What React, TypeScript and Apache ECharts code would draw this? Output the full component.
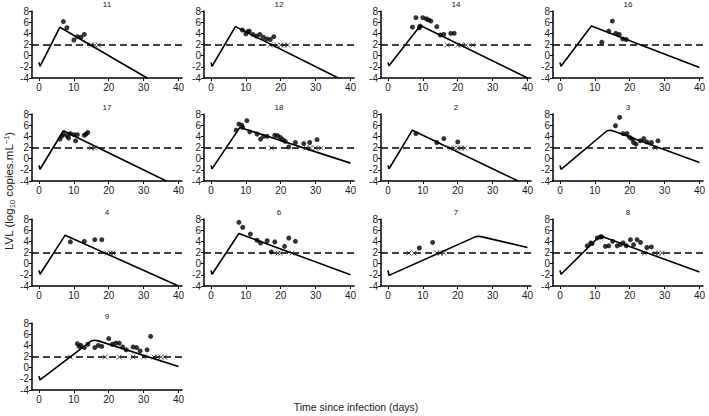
import React, { useEffect, useRef } from "react";
import * as echarts from "echarts";

const panelIds = ["11", "12", "14", "16", "17", "18", "2", "3", "4", "6", "7", "8", "9"];
const LOD = 1.9;
const xTicks = [0, 10, 20, 30, 40];

// model curves [day, log10 VL]
const model11 = [[0, -1.2], [0.3, -1.9], [6, 5.1], [31, -4]];
const model12 = [[0, -1.2], [0.3, -1.9], [7, 5.2], [36.5, -4]];
const model14 = [[0, -1.2], [0.3, -1.8], [9.3, 5.4], [40, -4]];
const model16 = [[0, -1.2], [0.3, -1.9], [9, 5.3], [40, -2.1]];
const model17 = [[0, -1.2], [0.3, -1.9], [7, 5.0], [36.5, -4]];
const model18 = [[0, -1.2], [0.3, -1.8], [8.3, 5.6], [40, -0.8]];
const model2 = [[0, -1.2], [0.3, -1.8], [7, 5.1], [37.3, -4]];
const model3 = [[0, -1.2], [0.3, -1.9], [13.5, 5.0], [14.5, 5.1], [15.5, 4.9], [40, -0.7]];
const model4 = [[0, -1.2], [0.3, -1.9], [7.5, 5.1], [40, -4]];
const model6 = [[0, -1.2], [0.3, -1.9], [8, 5.4], [40, -2]];
const model7 = [[0, -1.2], [0.3, -2.1], [25, 4.8], [26, 4.9], [27, 4.8], [40, 2.9]];
const model8 = [[0, -1.2], [0.3, -1.9], [11.5, 5.0], [40, -1.5]];
const model9 = [[0, -1.5], [0.3, -2.2], [15, 4.8], [16, 4.9], [17, 4.8], [40, 0.2]];

// detected measurements
const detected11 = [[7, 6.1], [8, 5.0], [10, 2.8], [11, 3.4], [12, 3.3], [13, 3.8]];
const detected12 = [[9, 4.6], [10, 3.9], [10.5, 4.3], [11, 4.4], [12, 3.8], [13, 3.5], [14, 3.8], [15, 3.3], [16, 3.0], [17, 2.9], [18, 3.4]];
const detected14 = [[7, 5.1], [8, 6.8], [9, 5.0], [9.2, 5.3], [10, 6.8], [11, 6.6], [11.6, 6.4], [12.3, 6.2], [14, 5.2], [15, 3.7], [16, 3.8], [18, 4.0], [19, 4.0]];
const detected16 = [[12, 2.4], [14, 4.4], [15, 6.2], [16, 4.0], [17, 3.8], [18, 3.0], [19, 2.9]];
const detected17 = [[6, 3.5], [6.5, 4.0], [7, 4.4], [8, 4.1], [8.5, 3.7], [9, 4.5], [10, 4.3], [10.5, 3.2], [11, 4.3], [13, 4.2], [13.5, 4.4], [14, 4.7]];
const detected18 = [[7.2, 5.1], [8, 6.2], [8.8, 6.0], [9.1, 5.6], [10.3, 6.8], [11.1, 4.8], [13.2, 4.4], [14.2, 3.5], [15.1, 4.0], [16.1, 4.0], [18.3, 4.2], [19.1, 4.1], [19.9, 3.8], [20.6, 3.4], [21.3, 3.1], [22.3, 2.1], [24.2, 2.9], [26.6, 2.7], [28.3, 2.9], [30.4, 3.4]];
const detected2 = [[8, 4.5], [14, 2.9], [16, 3.6], [20, 3.0]];
const detected3 = [[15.9, 5.9], [17.1, 7.4], [18.1, 4.5], [19.2, 4.5], [20, 3.8], [20.7, 3.5], [21.1, 2.9], [21.8, 2.6], [23, 3.2], [24, 3.6], [24.9, 3.0], [26.2, 2.9], [28.1, 3.2]];
const detected4 = [[9, 3.9], [13, 4.0], [16, 4.3], [18, 4.3]];
const detected6 = [[8, 7.4], [9.1, 6.5], [11.3, 5.3], [13.2, 4.2], [14.2, 3.7], [16.1, 4.1], [17.3, 2.1], [18.3, 3.9], [21.1, 3.1], [22.3, 4.6], [24.2, 4.0]];
const detected7 = [[9, 2.8], [12.8, 3.8]];
const detected8 = [[7.8, 3.2], [8.8, 3.7], [9.2, 3.6], [10.7, 4.6], [11.6, 4.8], [12, 4.8], [13, 3.1], [14, 3.2], [15.1, 4.0], [16.4, 3.2], [17.3, 3.4], [18.1, 3.7], [19, 3.2], [20.2, 4.3], [21.1, 3.4], [22.1, 4.3], [23.1, 3.8], [24.9, 2.9], [26.2, 3.0]];
const detected9 = [[11, 4.3], [11.5, 3.8], [12, 4.0], [13, 3.6], [14, 4.2], [16, 3.6], [17, 4.0], [18, 3.8], [20, 5.2], [21, 4.2], [22, 4.4], [23, 4.4], [24, 3.7], [25, 3.2], [27, 3.7], [28, 3.6], [29, 3.0], [31, 3.2], [32, 5.6]];

// undetected (below limit) days
const undetected11 = [15, 16, 17];
const undetected12 = [17, 19, 20, 21, 22];
const undetected14 = [17, 20, 21, 22.4, 24.3];
const undetected16: number[] = [];
const undetected17 = [15, 16];
const undetected18 = [17.3, 27.2, 28.5, 29.9, 31.6];
const undetected2 = [18, 19, 20, 21, 22];
const undetected3 = [27.3];
const undetected4 = [19.5, 20.5, 21.2];
const undetected6 = [19.2, 19.9, 23.2];
const undetected7 = [6, 7.5, 14, 15, 16];
const undetected8 = [24.3, 27.3, 28.3, 29.2];
const undetected9 = [9, 19, 23, 27, 30, 33, 34, 35, 36];

const models = [model11, model12, model14, model16, model17, model18, model2, model3, model4, model6, model7, model8, model9];
const detecteds = [detected11, detected12, detected14, detected16, detected17, detected18, detected2, detected3, detected4, detected6, detected7, detected8, detected9];
const undetecteds = [undetected11, undetected12, undetected14, undetected16, undetected17, undetected18, undetected2, undetected3, undetected4, undetected6, undetected7, undetected8, undetected9];

const colLefts = [32, 204, 381, 553];
const rowTops = [11, 114, 219, 323];
const gridW = 150;
const gridH = 67;

export default function App() {
  const ref = useRef<HTMLDivElement>(null);
  useEffect(() => {
    if (!ref.current) return;
    const chart = echarts.init(ref.current, undefined, { renderer: "svg" });
    const grids: any[] = [];
    const xAxes: any[] = [];
    const yAxes: any[] = [];
    const titles: any[] = [];
    const series: any[] = [];
    const font = "Liberation Sans, Arial, sans-serif";
    panelIds.forEach((id, i) => {
      const col = i % 4;
      const row = Math.floor(i / 4);
      const left = colLefts[col];
      const top = rowTops[row];
      grids.push({ left, top, width: gridW, height: gridH });
      titles.push({
        text: id,
        left: left + gridW / 2,
        top: top - 11,
        padding: 0,
        textAlign: "center",
        textStyle: { fontSize: 8, fontWeight: "normal", color: "#111", fontFamily: font },
      });
      xAxes.push({
        gridIndex: i,
        type: "value",
        min: -2,
        max: 41,
        splitLine: { show: false },
        axisLine: { onZero: false, lineStyle: { color: "#000", width: 1.5 } },
        axisTick: { show: true, length: 3, customValues: xTicks, lineStyle: { color: "#000" } },
        axisLabel: { customValues: xTicks, fontSize: 10, color: "#222", fontFamily: font, margin: 4 },
      });
      yAxes.push({
        gridIndex: i,
        type: "value",
        min: -4,
        max: 8,
        interval: 2,
        splitLine: { show: false },
        axisLine: { show: true, onZero: false, lineStyle: { color: "#000", width: 1.5 } },
        axisTick: { show: true, length: 3, lineStyle: { color: "#000" } },
        axisLabel: { fontSize: 10, color: "#222", fontFamily: font, margin: 3 },
      });
      series.push({
        type: "line",
        xAxisIndex: i,
        yAxisIndex: i,
        data: [[-2, LOD], [41, LOD]],
        symbol: "none",
        lineStyle: { color: "#000", width: 1.5, type: [7, 4] },
        silent: true,
        clip: false,
      });
      series.push({
        type: "line",
        xAxisIndex: i,
        yAxisIndex: i,
        data: models[i],
        symbol: "none",
        lineStyle: { color: "#000", width: 1.6 },
        silent: true,
      });
      series.push({
        type: "scatter",
        xAxisIndex: i,
        yAxisIndex: i,
        data: detecteds[i],
        symbol: "circle",
        symbolSize: 5,
        itemStyle: { color: "#000" },
      });
      series.push({
        type: "scatter",
        xAxisIndex: i,
        yAxisIndex: i,
        data: undetecteds[i].map((d) => [d, LOD]),
        symbol: "path://M0,0L10,10M10,0L0,10",
        symbolSize: 5,
        itemStyle: { color: "none", borderColor: "#333", borderWidth: 1 },
      });
    });
    chart.setOption({
      animation: false,
      backgroundColor: "#fff",
      title: titles,
      grid: grids,
      xAxis: xAxes,
      yAxis: yAxes,
      series,
      graphic: [
        {
          type: "text",
          x: 9,
          y: 191,
          rotation: Math.PI / 2,
          style: {
            text: "LVL (log{sub|10} copies.mL{sup|−1})",
            fontSize: 11.5,
            fill: "#222",
            fontFamily: font,
            align: "center",
            verticalAlign: "middle",
            rich: {
              sub: { fontSize: 7.5, padding: [6, 0, 0, 0], fontFamily: font, fill: "#222" },
              sup: { fontSize: 7.5, padding: [0, 0, 6, 0], fontFamily: font, fill: "#222" },
            },
          },
        },
        {
          type: "text",
          x: 356,
          y: 407,
          style: {
            text: "Time since infection (days)",
            fontSize: 10.5,
            fill: "#222",
            fontFamily: font,
            align: "center",
            verticalAlign: "middle",
          },
        },
      ],
    });
    return () => chart.dispose();
  }, []);
  return <div ref={ref} style={{ position: "fixed", left: 0, top: 0, width: 709, height: 416 }} />;
}
